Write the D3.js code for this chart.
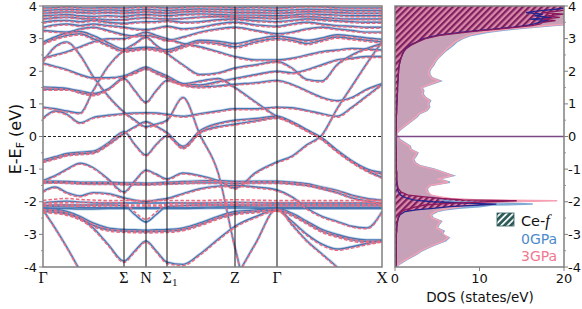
<!DOCTYPE html>
<html>
<head>
<meta charset="utf-8">
<script src="https://cdn.jsdelivr.net/npm/d3@7"></script>
<style>
  body { margin: 0; background: #fff; }
  svg { display: block; }
</style>
</head>
<body>
<svg id="chart" width="582" height="309"></svg>
<script>
// ---- k-path ----
var kLabels = ["Γ", "Σ", "N", "Σ1", "Z", "Γ", "X"]
var kLabelPos = [0, 0.81, 1.03, 1.24, 1.92, 2.34, 3.39]
var kGrid = [0, 0.12, 0.24, 0.37, 0.50, 0.65, 0.81, 0.92, 1.03, 1.13, 1.24, 1.40, 1.57, 1.75, 1.92, 2.13, 2.34, 2.49, 2.64, 2.79, 2.94, 3.09, 3.24, 3.39]

// ---- bands at 0GPa (eV, on kGrid) ----
var bands0GPa = [
  [0.56, 0.78, 0.68, 0.42, 0.58, 0.65, 0.70, 0.72, 0.73, 0.72, 0.68, 0.62, 0.70, 0.78, 0.85, 0.85, 0.90, 0.88, 0.80, 0.70, 0.62, 0.90, 1.25, 1.60],
  [0.90, 0.85, 0.78, 0.72, 1.40, 2.15, 2.65, 2.85, 3.05, 2.80, 2.55, 2.20, 1.90, 1.95, 2.10, 2.20, 2.30, 2.10, 1.75, 1.70, 2.20, 2.50, 2.70, 2.85],
  [1.45, 1.45, 1.45, 1.40, 1.32, 1.45, 1.78, 1.40, 1.05, 1.40, 1.72, 1.62, 1.70, 1.78, 1.50, 1.05, 0.62, 0.45, 0.20, -0.05, -0.42, -0.75, -1.00, -1.10],
  [1.52, 1.50, 1.47, 1.35, 1.28, 1.45, 1.82, 1.95, 2.08, 1.95, 1.80, 1.58, 1.52, 1.55, 1.60, 1.65, 1.72, 1.60, 1.40, 1.20, 1.10, 1.20, 1.45, 1.62],
  [2.30, 2.75, 2.90, 2.50, 1.85, 1.25, 0.75, 0.50, 0.30, 0.38, 0.50, 1.20, 0.05, -1.10, -3.40, -5.5, -5.5, -5.5, -5.5, -5.5, -5.5, -5.5, -5.5, -5.5],
  [2.25, 2.15, 2.05, 1.90, 1.80, 1.80, 1.86, 2.00, 2.13, 2.00, 1.86, 1.62, 1.58, 1.68, 1.78, 1.90, 2.00, 1.95, 2.05, 2.20, 2.35, 2.40, 2.45, 2.45],
  [2.40, 2.50, 2.60, 2.75, 2.90, 3.00, 3.00, 3.10, 3.20, 3.10, 3.00, 2.85, 2.75, 2.60, 2.45, 2.35, 2.35, 2.40, 2.50, 2.60, 2.65, 2.70, 2.68, 2.65],
  [2.85, 3.00, 3.10, 3.15, 3.00, 2.80, 2.62, 2.66, 2.70, 2.66, 2.60, 2.75, 2.90, 2.85, 2.75, 2.90, 3.00, 2.95, 2.85, 2.95, 3.05, 3.00, 2.95, 2.90],
  [2.90, 3.05, 3.18, 3.22, 3.10, 2.88, 2.68, 2.71, 2.74, 2.71, 2.66, 2.80, 2.95, 2.92, 2.85, 2.98, 3.08, 3.02, 2.95, 3.02, 3.12, 3.08, 3.02, 2.98],
  [3.25, 3.22, 3.20, 3.30, 3.35, 3.25, 3.12, 3.08, 3.10, 3.05, 2.95, 3.05, 3.20, 3.30, 3.35, 3.25, 3.15, 3.20, 3.30, 3.35, 3.30, 3.25, 3.20, 3.20],
  [3.35, 3.42, 3.45, 3.40, 3.45, 3.40, 3.35, 3.30, 3.28, 3.32, 3.38, 3.30, 3.35, 3.45, 3.50, 3.42, 3.38, 3.45, 3.50, 3.45, 3.40, 3.38, 3.35, 3.35],
  [3.50, 3.55, 3.56, 3.52, 3.56, 3.50, 3.47, 3.50, 3.52, 3.52, 3.55, 3.50, 3.52, 3.58, 3.60, 3.55, 3.52, 3.56, 3.60, 3.58, 3.55, 3.52, 3.50, 3.50],
  [3.60, 3.64, 3.66, 3.62, 3.60, 3.58, 3.58, 3.62, 3.64, 3.62, 3.60, 3.62, 3.66, 3.68, 3.66, 3.64, 3.62, 3.66, 3.68, 3.65, 3.62, 3.60, 3.60, 3.60],
  [3.70, 3.72, 3.74, 3.70, 3.68, 3.70, 3.68, 3.72, 3.74, 3.72, 3.70, 3.74, 3.76, 3.74, 3.72, 3.72, 3.70, 3.72, 3.76, 3.74, 3.72, 3.70, 3.70, 3.70],
  [3.78, 3.80, 3.82, 3.80, 3.78, 3.80, 3.78, 3.80, 3.82, 3.80, 3.78, 3.82, 3.84, 3.82, 3.80, 3.80, 3.78, 3.80, 3.83, 3.82, 3.80, 3.78, 3.78, 3.78],
  [3.86, 3.88, 3.90, 3.88, 3.86, 3.88, 3.86, 3.88, 3.90, 3.88, 3.86, 3.89, 3.91, 3.90, 3.88, 3.88, 3.86, 3.88, 3.90, 3.89, 3.88, 3.86, 3.86, 3.86],
  [3.94, 3.95, 3.97, 3.95, 3.94, 3.95, 3.94, 3.96, 3.97, 3.96, 3.94, 3.96, 3.98, 3.97, 3.95, 3.96, 3.94, 3.96, 3.98, 3.97, 3.95, 3.94, 3.94, 3.94],
  [-0.72, -0.62, -0.52, -0.48, -0.45, -0.20, 0.15, -0.25, -0.57, -0.25, 0.02, -0.35, 0.12, 0.30, 0.38, 0.48, 0.58, 0.42, 0.18, -0.08, -0.45, -0.78, -1.05, -1.25],
  [-0.77, -0.67, -0.57, -0.53, -0.50, -0.25, 0.10, 0.30, 0.45, 0.32, 0.12, -0.30, 0.18, 0.40, 0.50, 0.55, 0.62, 0.45, 0.20, -0.05, -0.42, -0.75, -1.00, -1.15],
  [-1.35, -1.20, -1.00, -0.82, -0.95, -1.30, -1.70, -1.35, -1.03, -1.15, -1.30, -1.12, -1.20, -1.35, -1.58, -1.10, -0.78, -0.60, -0.25, 0.05, 0.85, 1.55, 2.25, 2.90],
  [-1.37, -1.37, -1.38, -1.40, -1.40, -1.40, -1.42, -1.42, -1.43, -1.42, -1.40, -1.38, -1.36, -1.35, -1.38, -1.37, -1.37, -1.40, -1.45, -1.55, -1.65, -1.80, -1.90, -1.95],
  [-1.42, -1.41, -1.42, -1.44, -1.45, -1.45, -1.46, -1.47, -1.47, -1.46, -1.45, -1.43, -1.42, -1.42, -1.44, -1.42, -1.42, -1.45, -1.50, -1.60, -1.72, -1.88, -1.98, -2.05],
  [-1.68, -1.55, -1.72, -1.82, -1.72, -1.75, -1.88, -1.95, -2.00, -1.95, -1.90, -1.75, -1.60, -1.52, -1.50, -1.55, -1.64, -1.85, -2.20, -2.45, -2.60, -2.75, -2.80, -2.30],
  [-2.12, -2.10, -2.10, -2.10, -2.10, -2.10, -2.12, -2.40, -2.62, -2.40, -2.15, -2.12, -2.10, -2.10, -2.10, -2.10, -2.10, -2.10, -2.10, -2.10, -2.10, -2.10, -2.10, -2.10],
  [-2.04, -2.00, -1.98, -2.01, -2.03, -2.04, -2.04, -2.04, -2.04, -2.04, -2.04, -2.04, -2.04, -2.03, -2.02, -2.03, -2.04, -2.04, -2.04, -2.04, -2.04, -2.04, -2.04, -2.04],
  [-2.17, -2.15, -2.16, -2.17, -2.18, -2.18, -2.18, -2.18, -2.18, -2.18, -2.18, -2.18, -2.17, -2.16, -2.15, -2.16, -2.17, -2.17, -2.17, -2.17, -2.17, -2.17, -2.17, -2.17],
  [-2.22, -2.20, -2.21, -2.22, -2.22, -2.21, -2.21, -2.21, -2.21, -2.21, -2.21, -2.21, -2.20, -2.19, -2.19, -2.20, -2.21, -2.21, -2.21, -2.21, -2.21, -2.21, -2.21, -2.21],
  [-2.20, -2.22, -2.30, -2.45, -2.65, -2.80, -2.85, -2.86, -2.87, -2.86, -2.85, -2.80, -2.65, -2.45, -2.30, -2.25, -2.20, -2.35, -2.60, -2.85, -3.00, -3.12, -3.17, -3.17],
  [-2.25, -2.27, -2.36, -2.52, -2.72, -2.86, -2.90, -2.91, -2.92, -2.91, -2.90, -2.85, -2.70, -2.50, -2.36, -2.30, -2.25, -2.40, -2.65, -2.90, -3.05, -3.17, -3.22, -3.20],
  [-2.30, -2.32, -2.38, -2.50, -2.80, -3.30, -3.82, -3.50, -3.20, -3.50, -3.85, -3.92, -3.60, -3.15, -2.75, -2.45, -2.25, -2.60, -3.00, -3.30, -3.45, -3.38, -3.28, -3.20],
  [-2.25, -2.80, -3.40, -4.10, -4.70, -5.5, -5.5, -5.5, -5.5, -5.5, -5.5, -5.5, -5.5, -5.5, -5.5, -5.5, -5.5, -5.5, -5.5, -5.5, -5.5, -5.5, -5.5, -5.5],
  [-5.5, -5.5, -5.5, -5.5, -5.5, -5.5, -5.5, -5.5, -5.5, -5.5, -5.5, -5.5, -5.5, -5.5, -4.40, -3.25, -2.20, -2.70, -3.20, -3.60, -4.00, -4.50, -5.00, -5.50]
]
// energy shift of each band at 3GPa
var shift3GPa = [-0.03, -0.03, -0.03, -0.03, -0.03, -0.03, -0.03, -0.04, -0.04, -0.03, -0.03, -0.03, -0.02, -0.03, -0.02, -0.03, -0.02,
                 -0.03, -0.03, -0.03, -0.02, -0.02, -0.03, 0.08, 0.08, 0.08, 0.08, -0.04, -0.04, -0.04, -0.03, -0.03]

// ---- DOS ----
var dosE = [-4.0, -3.9, -3.8, -3.7, -3.6, -3.5, -3.4, -3.3, -3.2, -3.1, -3.0, -2.9, -2.8, -2.7, -2.6, -2.5, -2.4, -2.3,
  -2.25, -2.2, -2.15, -2.1, -2.07, -2.04, -2.0, -1.97, -1.94, -1.9, -1.85, -1.8,
  -1.7, -1.6, -1.5, -1.4, -1.3, -1.2, -1.1, -1.0, -0.9, -0.8, -0.7, -0.6, -0.5, -0.4, -0.3, -0.2, -0.1, 0.0,
  0.1, 0.2, 0.3, 0.4, 0.5, 0.6, 0.7, 0.8, 0.9, 1.0, 1.1, 1.2, 1.3, 1.4, 1.5, 1.6, 1.7, 1.8, 1.9, 2.0,
  2.1, 2.2, 2.3, 2.4, 2.5, 2.6, 2.7, 2.8, 2.9, 3.0, 3.1, 3.2,
  3.25, 3.3, 3.35, 3.4, 3.45, 3.5, 3.55, 3.6, 3.65, 3.7, 3.75, 3.8, 3.85, 3.9, 3.95, 4.0]
var dosTot0 = [0.1, 0.6, 1.2, 1.9, 2.6, 3.2, 4.0, 4.9, 6.0, 6.4, 5.6, 5.8, 5.0, 5.2, 5.5, 4.5, 4.3, 5.0,
  5.8, 7.5, 10.0, 11.5, 16.3, 12.8, 7.5, 6.0, 5.6, 5.2, 4.8, 4.2,
  3.9, 3.8, 4.2, 6.5, 5.2, 6.9, 5.8, 4.6, 3.0, 2.4, 2.2, 2.5, 2.7, 1.9, 1.8, 1.2, 0.6, 0.3,
  0.2, 0.6, 1.1, 1.6, 2.1, 2.6, 2.9, 3.8, 4.1, 4.0, 4.2, 3.6, 3.3, 3.4, 3.2, 4.3, 5.4, 4.4, 4.1, 4.1,
  4.3, 4.6, 4.8, 5.1, 5.5, 5.9, 6.4, 6.9, 7.3, 8.0, 9.0, 11.0,
  12.6, 14.2, 16.5, 18.8, 21, 22, 22, 22, 22, 22, 22, 22, 22, 22, 22, 22]
var dosTot3 = [0.1, 0.5, 1.1, 1.8, 2.5, 3.1, 3.9, 4.8, 5.8, 6.3, 5.7, 5.6, 4.9, 5.1, 5.4, 4.4, 4.2, 4.8,
  5.4, 6.5, 7.8, 8.5, 11.0, 9.5, 13.0, 19.2, 9.5, 6.6, 5.2, 4.3,
  3.8, 3.7, 4.1, 6.3, 5.1, 6.7, 5.7, 4.5, 2.9, 2.3, 2.1, 2.4, 2.6, 1.8, 1.7, 1.1, 0.5, 0.3,
  0.2, 0.5, 1.0, 1.5, 2.0, 2.5, 2.8, 3.7, 4.0, 3.9, 4.1, 3.5, 3.2, 3.3, 3.1, 4.1, 5.2, 4.3, 4.0, 4.0,
  4.2, 4.5, 4.7, 5.0, 5.4, 5.8, 6.2, 6.7, 7.1, 7.8, 8.7, 10.5,
  12.0, 13.5, 15.8, 18.0, 20.5, 22, 22, 22, 22, 22, 22, 22, 22, 22, 22, 22]
var dosF0 = [0.1, 0.15, 0.15, 0.15, 0.15, 0.15, 0.15, 0.15, 0.15, 0.15, 0.15, 0.2, 0.2, 0.25, 0.3, 0.4, 0.6, 1.2,
  2.5, 4.5, 6.5, 10.0, 12.0, 8.5, 4.5, 3.2, 2.2, 1.5, 1.0, 0.7,
  0.4, 0.3, 0.25, 0.2, 0.2, 0.2, 0.2, 0.15, 0.15, 0.15, 0.15, 0.15, 0.15, 0.15, 0.12, 0.12, 0.1, 0.1,
  0.12, 0.15, 0.15, 0.15, 0.15, 0.15, 0.18, 0.2, 0.2, 0.22, 0.25, 0.25, 0.28, 0.3, 0.3, 0.32, 0.35, 0.38, 0.4, 0.42,
  0.45, 0.5, 0.6, 0.7, 0.85, 1.0, 1.3, 1.8, 2.6, 3.4, 5.0, 8.0,
  10.0, 12.0, 14.0, 15.5, 16.5, 17.0, 18.2, 16.0, 18.5, 16.5, 17.5, 15.5, 17.0, 19.0, 20.5, 21]
var dosF3 = [0.1, 0.15, 0.15, 0.15, 0.15, 0.15, 0.15, 0.15, 0.15, 0.15, 0.15, 0.2, 0.2, 0.25, 0.3, 0.35, 0.5, 0.8,
  1.2, 1.8, 2.6, 3.5, 5.0, 7.0, 11.0, 14.4, 8.0, 5.5, 3.5, 1.6,
  0.7, 0.4, 0.3, 0.25, 0.2, 0.2, 0.2, 0.15, 0.15, 0.15, 0.15, 0.15, 0.15, 0.15, 0.12, 0.12, 0.1, 0.1,
  0.12, 0.15, 0.15, 0.15, 0.15, 0.15, 0.18, 0.2, 0.2, 0.22, 0.25, 0.25, 0.28, 0.3, 0.3, 0.32, 0.35, 0.38, 0.4, 0.42,
  0.45, 0.5, 0.6, 0.7, 0.85, 1.05, 1.35, 1.9, 2.7, 3.6, 5.3, 8.5,
  10.5, 12.5, 14.5, 16.2, 17.2, 17.5, 19.0, 17.5, 19.5, 18.0, 20.0, 17.5, 19.5, 20.5, 21, 21]

var eTicks = [-4, -3, -2, -1, 0, 1, 2, 3, 4]
var eMinor = [-3.5, -2.5, -1.5, -0.5, 0.5, 1.5, 2.5, 3.5]
var dosTicks = [0, 10, 20]
var legendItems = ["0GPa", "3GPa"]

// ---- scales ----
svg = d3.select("#chart")
var y = d3.scaleLinear().domain([-4, 4]).range([267, 6])
var xk = d3.scaleLinear().domain([0, 3.39]).range([43, 382])
var xd = d3.scaleLinear().domain([0, 20]).range([395, 564])

var blue = "#4876b0", red = "#ee6a7f"
var sans = "'DejaVu Sans', sans-serif"

var defs = svg.append("defs")
defs.append("clipPath").attr("id", "clipBand")
  .append("rect").attr("x", xk(0)).attr("y", y(4)).attr("width", xk(3.39) - xk(0)).attr("height", y(-4) - y(4))
defs.append("clipPath").attr("id", "clipDos")
  .append("rect").attr("x", xd(0)).attr("y", y(4)).attr("width", xd(20) - xd(0)).attr("height", y(-4) - y(4))

var hatch = defs.append("pattern").attr("id", "hatchF")
  .attr("patternUnits", "userSpaceOnUse").attr("width", 4.5).attr("height", 4.5)
  .attr("patternTransform", "rotate(45)")
hatch.append("rect").attr("width", 4.5).attr("height", 4.5).attr("fill", "#d98aa9")
hatch.append("rect").attr("width", 2.2).attr("height", 4.5).attr("fill", "#7e1f5f")

var hatchLeg = defs.append("pattern").attr("id", "hatchLeg")
  .attr("patternUnits", "userSpaceOnUse").attr("width", 4.5).attr("height", 4.5)
  .attr("patternTransform", "rotate(45)")
hatchLeg.append("rect").attr("width", 4.5).attr("height", 4.5).attr("fill", "#2d5b58")
hatchLeg.append("rect").attr("width", 1.7).attr("height", 4.5).attr("fill", "#ffffff")

// ---- band structure ----
var bandLine = d3.line()
  .x(function (d, i) { return xk(kGrid[i]) })
  .y(function (d) { return y(d) })
  .curve(d3.curveMonotoneX)

var gb = svg.append("g").attr("clip-path", "url(#clipBand)")

// 0GPa : solid blue with soft halo
gb.selectAll("path.halo0").data(bands0GPa).enter().append("path")
  .attr("d", bandLine).attr("fill", "none")
  .attr("stroke", "#a8c3e2").attr("stroke-width", 3).attr("opacity", 0.7)
gb.selectAll("path.b0").data(bands0GPa).enter().append("path")
  .attr("d", bandLine).attr("fill", "none")
  .attr("stroke", blue).attr("stroke-width", 1.4)

// 3GPa : dashed red
var bands3 = bands0GPa.map(function (b, j) { return b.map(function (v) { return v + shift3GPa[j] }) })
gb.selectAll("path.b3").data(bands3).enter().append("path")
  .attr("d", bandLine).attr("fill", "none")
  .attr("stroke", red).attr("stroke-width", 1.5)
  .attr("stroke-dasharray", "3.5,2")

// fermi level
svg.append("line")
  .attr("x1", xk(0)).attr("x2", xk(3.39)).attr("y1", y(0)).attr("y2", y(0))
  .attr("stroke", "#222").attr("stroke-width", 1).attr("stroke-dasharray", "3,2")

// high symmetry lines
svg.selectAll("line.hs").data(kLabelPos.slice(1, 6)).enter().append("line")
  .attr("x1", function (d) { return xk(d) }).attr("x2", function (d) { return xk(d) })
  .attr("y1", y(4)).attr("y2", y(-4))
  .attr("stroke", "#111").attr("stroke-width", 1)

// frame
svg.append("rect").attr("x", xk(0)).attr("y", y(4))
  .attr("width", xk(3.39) - xk(0)).attr("height", y(-4) - y(4))
  .attr("fill", "none").attr("stroke", "#808080").attr("stroke-width", 1.5)

// left axis ticks
var gy = svg.append("g").attr("font-family", sans).attr("font-size", 13).attr("fill", "#111")
gy.selectAll("line.maj").data(eTicks).enter().append("line")
  .attr("x1", 39).attr("x2", 43).attr("y1", function (d) { return y(d) }).attr("y2", function (d) { return y(d) })
  .attr("stroke", "#808080").attr("stroke-width", 1)
gy.selectAll("line.min").data(eMinor).enter().append("line")
  .attr("x1", 41).attr("x2", 43).attr("y1", function (d) { return y(d) }).attr("y2", function (d) { return y(d) })
  .attr("stroke", "#808080").attr("stroke-width", 0.8)
gy.selectAll("text").data(eTicks).enter().append("text")
  .attr("x", 37).attr("y", function (d) { return y(d) + 4.5 })
  .attr("text-anchor", "end")
  .text(function (d) { return String(d) })

// y label
var yl = svg.append("text")
  .attr("transform", "translate(21,139) rotate(-90)")
  .attr("text-anchor", "middle")
  .attr("font-family", sans).attr("font-size", 16).attr("fill", "#111")
yl.append("tspan").text("E-E")
yl.append("tspan").attr("font-size", 11).attr("dy", 3).text("F")
yl.append("tspan").attr("dy", -3).text(" (eV)")

// k labels
var gk = svg.append("g").attr("font-family", "'Liberation Serif', 'DejaVu Serif', serif")
  .attr("font-size", 16).attr("fill", "#111")
kLabels.forEach(function (lab, i) {
  var t = gk.append("text").attr("x", xk(kLabelPos[i])).attr("y", 283).attr("text-anchor", "middle")
  if (lab === "Σ1") {
    t.attr("x", xk(kLabelPos[i]) + 3)
    t.append("tspan").text("Σ")
    t.append("tspan").attr("font-size", 11).attr("dy", 3).text("1")
  } else {
    t.text(lab)
  }
})

// ---- DOS panel ----
var gd = svg.append("g").attr("clip-path", "url(#clipDos)")
var dosArea = d3.area()
  .y(function (d, i) { return y(dosE[i]) })
  .x0(xd(0))
  .x1(function (d) { return xd(d) })
var dosLine = d3.line()
  .y(function (d, i) { return y(dosE[i]) })
  .x(function (d) { return xd(d) })

gd.append("path").attr("d", dosArea(dosTot0)).attr("fill", "#a7bedc").attr("opacity", 0.9)
gd.append("path").attr("d", dosArea(dosTot3)).attr("fill", "#c89fb4").attr("opacity", 0.95)
gd.append("path").attr("d", dosArea(dosF0)).attr("fill", "url(#hatchF)")
gd.append("path").attr("d", dosArea(dosF3)).attr("fill", "url(#hatchF)")
gd.append("path").attr("d", dosLine(dosTot0)).attr("fill", "none").attr("stroke", "#7eaad6").attr("stroke-width", 1.6)
gd.append("path").attr("d", dosLine(dosTot3)).attr("fill", "none").attr("stroke", "#f5a0b3").attr("stroke-width", 1.5)
gd.append("path").attr("d", dosLine(dosF0)).attr("fill", "none").attr("stroke", "#24248e").attr("stroke-width", 1.3)
gd.append("path").attr("d", dosLine(dosF3)).attr("fill", "none").attr("stroke", "#8c1a5c").attr("stroke-width", 1.3)

// zero line in DOS panel
svg.append("line")
  .attr("x1", xd(0)).attr("x2", xd(20)).attr("y1", y(0)).attr("y2", y(0))
  .attr("stroke", "#7b4a86").attr("stroke-width", 1.6)

svg.append("rect").attr("x", xd(0)).attr("y", y(4))
  .attr("width", xd(20) - xd(0)).attr("height", y(-4) - y(4))
  .attr("fill", "none").attr("stroke", "#808080").attr("stroke-width", 1.5)

// right axis
var gr = svg.append("g").attr("font-family", sans).attr("font-size", 13).attr("fill", "#111")
gr.selectAll("line.maj").data(eTicks).enter().append("line")
  .attr("x1", 564).attr("x2", 568).attr("y1", function (d) { return y(d) }).attr("y2", function (d) { return y(d) })
  .attr("stroke", "#808080").attr("stroke-width", 1)
gr.selectAll("line.min").data(eMinor).enter().append("line")
  .attr("x1", 564).attr("x2", 566).attr("y1", function (d) { return y(d) }).attr("y2", function (d) { return y(d) })
  .attr("stroke", "#808080").attr("stroke-width", 0.8)
gr.selectAll("text").data(eTicks).enter().append("text")
  .attr("x", 568).attr("y", function (d) { return y(d) + 4.5 })
  .text(function (d) { return String(d) })

// bottom DOS axis
var gx = svg.append("g").attr("font-family", sans).attr("font-size", 13).attr("fill", "#111")
gx.selectAll("line").data(dosTicks).enter().append("line")
  .attr("x1", function (d) { return xd(d) }).attr("x2", function (d) { return xd(d) })
  .attr("y1", 267).attr("y2", 271).attr("stroke", "#808080").attr("stroke-width", 1)
gx.selectAll("text").data(dosTicks).enter().append("text")
  .attr("x", function (d) { return xd(d) }).attr("y", 283).attr("text-anchor", "middle")
  .text(function (d) { return d })
svg.append("text").attr("x", 480).attr("y", 302).attr("text-anchor", "middle")
  .attr("font-family", sans).attr("font-size", 13.5).attr("fill", "#111")
  .text("DOS (states/eV)")

// legend
svg.append("rect").attr("x", 497).attr("y", 213).attr("width", 17).attr("height", 13)
  .attr("fill", "url(#hatchLeg)").attr("stroke", "#2d5b58").attr("stroke-width", 0.8)
var lf = svg.append("text").attr("x", 521).attr("y", 226)
  .attr("font-family", sans).attr("font-size", 14.5).attr("fill", "#111")
lf.append("tspan").text("Ce-")
lf.append("tspan").attr("font-family", "'Liberation Serif', serif").attr("font-style", "italic").attr("font-size", 16.5).text("f")
svg.selectAll("text.leg").data(legendItems).enter().append("text")
  .attr("x", 521).attr("y", function (d, i) { return 244 + i * 17 })
  .attr("font-family", sans).attr("font-size", 14)
  .attr("fill", function (d, i) { return i === 0 ? "#4d8acb" : "#f07890" })
  .text(function (d) { return d })
</script>
